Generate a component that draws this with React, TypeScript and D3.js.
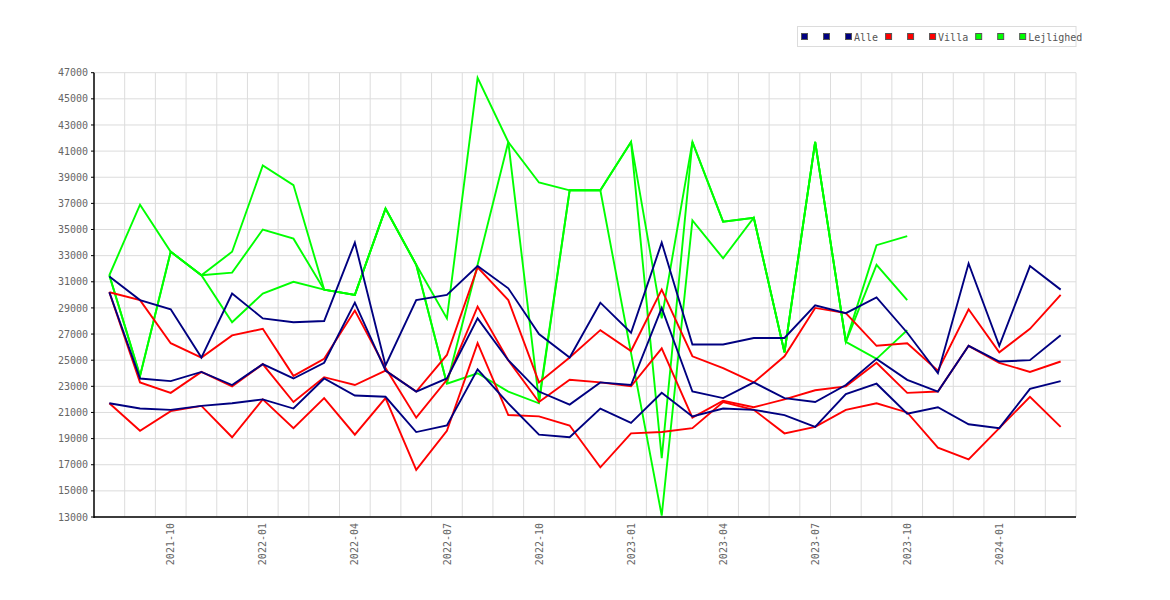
import React from 'react';
import * as d3 from 'd3';

const months = [
  '2021-08', '2021-09', '2021-10', '2021-11', '2021-12',
  '2022-01', '2022-02', '2022-03', '2022-04', '2022-05', '2022-06', '2022-07', '2022-08', '2022-09', '2022-10', '2022-11', '2022-12',
  '2023-01', '2023-02', '2023-03', '2023-04', '2023-05', '2023-06', '2023-07', '2023-08', '2023-09', '2023-10', '2023-11', '2023-12',
  '2024-01', '2024-02', '2024-03',
];

const xTickLabels = ['2021-10', '2022-01', '2022-04', '2022-07', '2022-10', '2023-01', '2023-04', '2023-07', '2023-10', '2024-01'];

const yTicks = [13000, 15000, 17000, 19000, 21000, 23000, 25000, 27000, 29000, 31000, 33000, 35000, 37000, 39000, 41000, 43000, 45000, 47000];

// Alle (navy)
const alle1 = [31400, 29600, 28900, 25200, 30100, 28200, 27900, 28000, 34000, 24600, 29600, 30000, 32200, 30500, 27000, 25200, 29400, 27100, 34000, 26200, 26200, 26700, 26700, 29200, 28600, 29800, 27100, 24000, 32400, 26100, 32200, 30400];
const alle2 = [30200, 23600, 23400, 24100, 23100, 24700, 23600, 24800, 29400, 24200, 22600, 23600, 28200, 25000, 22600, 21600, 23300, 23100, 29000, 22600, 22100, 23300, 22100, 21800, 23100, 25100, 23500, 22600, 26100, 24900, 25000, 26900];
const alle3 = [21700, 21300, 21200, 21500, 21700, 22000, 21300, 23600, 22300, 22200, 19500, 20000, 24300, 21700, 19300, 19100, 21300, 20200, 22500, 20700, 21300, 21200, 20800, 19900, 22400, 23200, 20900, 21400, 20100, 19800, 22800, 23400];

// Villa (red)
const villa1 = [30200, 29600, 26300, 25200, 26900, 27400, 23800, 25100, 28800, 24400, 20600, 23500, 29100, 25000, 21800, 23500, 23300, 23000, 25900, 20600, 21900, 21400, 22000, 22700, 23000, 24800, 22500, 22600, 26100, 24800, 24100, 24900];
const villa2 = [30200, 23300, 22500, 24100, 23000, 24700, 21800, 23700, 23100, 24200, 22600, 25400, 32100, 29600, 23300, 25200, 27300, 25700, 30400, 25300, 24400, 23300, 25300, 29000, 28600, 26100, 26300, 24200, 28900, 25600, 27400, 30000];
const villa3 = [21700, 19600, 21100, 21500, 19100, 22000, 19800, 22100, 19300, 22100, 16600, 19600, 26300, 20800, 20700, 20000, 16800, 19400, 19500, 19800, 21800, 21200, 19400, 19900, 21200, 21700, 21000, 18300, 17400, 19800, 22200, 19900];

// Lejlighed (green)
const lejl1 = [31500, 36900, 33300, 31500, 33300, 39900, 38400, 30400, 30000, 36600, 32300, 28200, 46600, 41700, 38600, 38000, 38000, 41700, 28200, 41700, 35600, 35900, 25600, 41700, 26400, 33800, 34500, null, null, null, null, null];
const lejl2 = [31500, 23800, 33300, 31500, 31700, 35000, 34300, 30400, 30000, 36600, 32300, 23200, 32300, 41700, 21900, 38000, 38000, 41700, 17500, 41700, 35600, 35900, 25600, 41700, 26400, 32300, 29600, null, null, null, null, null];
const lejl3 = [31500, 23800, 33300, 31500, 27900, 30100, 31000, 30400, 30000, 36600, 32300, 23200, 24000, 22600, 21700, 38000, 38000, null, 13100, 35700, 32800, 35900, 25600, 41700, 26400, 25100, 27300, null, null, null, null, null];

const seriesNames = ['Alle', 'Villa', 'Lejlighed'];
const seriesColors = ['#000080', '#ff0000', '#00ff00'];
const seriesData = [[alle1, alle2, alle3], [villa1, villa2, villa3], [lejl1, lejl2, lejl3]];

const W = 1170;
const H = 600;
const L = 94;
const R = 1076;
const T = 72.7;
const B = 517;
const FONT = '"DejaVu Sans Mono", monospace';

export default function App() {
  const x = d3.scaleBand<string>().domain(months).range([L, R]).paddingInner(0).paddingOuter(0);
  const y = d3.scaleLinear().domain([13000, 47000]).range([B, T]);
  const cx = (m: string) => (x(m) as number) + x.bandwidth() / 2;

  const lineGen = d3
    .line<[string, number]>()
    .x((d) => cx(d[0]))
    .y((d) => y(d[1]));

  const pathFor = (vals: (number | null)[]) =>
    lineGen(months.map((m, i) => [m, vals[i]] as [string, number]).filter((d) => d[1] != null)) || '';

  // draw order: Lejlighed, Villa, Alle (Alle on top)
  const drawOrder = [2, 1, 0];

  // legend layout
  const charW = 6.02;
  let lx = 801;
  const legendItems = seriesNames.map((name, si) => {
    const squares = [lx, lx + 22, lx + 44];
    const tx = lx + 53;
    lx = tx + name.length * charW + 7;
    return { name, si, squares, tx };
  });

  return (
    <svg
      width={W}
      height={H}
      style={{ position: 'absolute', left: 0, top: 0, background: '#fff' }}
      xmlns="http://www.w3.org/2000/svg"
    >
      <rect x={0} y={0} width={W} height={H} fill="#fff" />
      {/* horizontal grid */}
      {yTicks.map((t) => (
        <line key={'h' + t} x1={L} x2={R} y1={y(t)} y2={y(t)} stroke="#dcdcdc" strokeWidth={1} />
      ))}
      {/* vertical grid at band edges */}
      {months.map((m) => (
        <line
          key={'v' + m}
          x1={(x(m) as number) + x.bandwidth()}
          x2={(x(m) as number) + x.bandwidth()}
          y1={T}
          y2={B}
          stroke="#dcdcdc"
          strokeWidth={1}
        />
      ))}

      {/* series */}
      {drawOrder.map((si) =>
        seriesData[si].map((vals, k) => (
          <path
            key={'s' + si + '-' + k}
            d={pathFor(vals)}
            fill="none"
            stroke={seriesColors[si]}
            strokeWidth={1.9}
            strokeLinejoin="miter"
          />
        ))
      )}

      {/* axes */}
      <line x1={L} x2={L} y1={T} y2={B + 1} stroke="#000" strokeWidth={1.5} />
      <line x1={L} x2={R} y1={B} y2={B} stroke="#000" strokeWidth={1.5} />

      {/* y labels */}
      {yTicks.map((t) => (
        <g key={'yl' + t}>
          <line x1={L - 3} x2={L} y1={y(t)} y2={y(t)} stroke="#000" strokeWidth={1} />
          <text
            x={L - 6}
            y={y(t)}
            dy="0.36em"
            textAnchor="end"
            fontFamily={FONT}
            fontSize={10}
            fill="#666"
          >
            {t}
          </text>
        </g>
      ))}

      {/* x labels */}
      {xTickLabels.map((m) => (
        <text
          key={'xl' + m}
          transform={`translate(${cx(m)},${B + 6}) rotate(-90)`}
          dy="0.36em"
          textAnchor="end"
          fontFamily={FONT}
          fontSize={10}
          fill="#666"
        >
          {m}
        </text>
      ))}

      {/* legend */}
      <rect x={797.5} y={26.5} width={278.5} height={20} fill="#fff" stroke="#dcdcdc" strokeWidth={1} />
      {legendItems.map((it) => (
        <g key={'lg' + it.name}>
          {it.squares.map((sx, j) => (
            <rect
              key={j}
              x={sx + 0.5}
              y={33.5}
              width={6}
              height={6}
              fill={seriesColors[it.si]}
              stroke="#555"
              strokeWidth={1}
            />
          ))}
          <text x={it.tx} y={40.5} fontFamily={FONT} fontSize={10} fill="#555">
            {it.name}
          </text>
        </g>
      ))}
    </svg>
  );
}
